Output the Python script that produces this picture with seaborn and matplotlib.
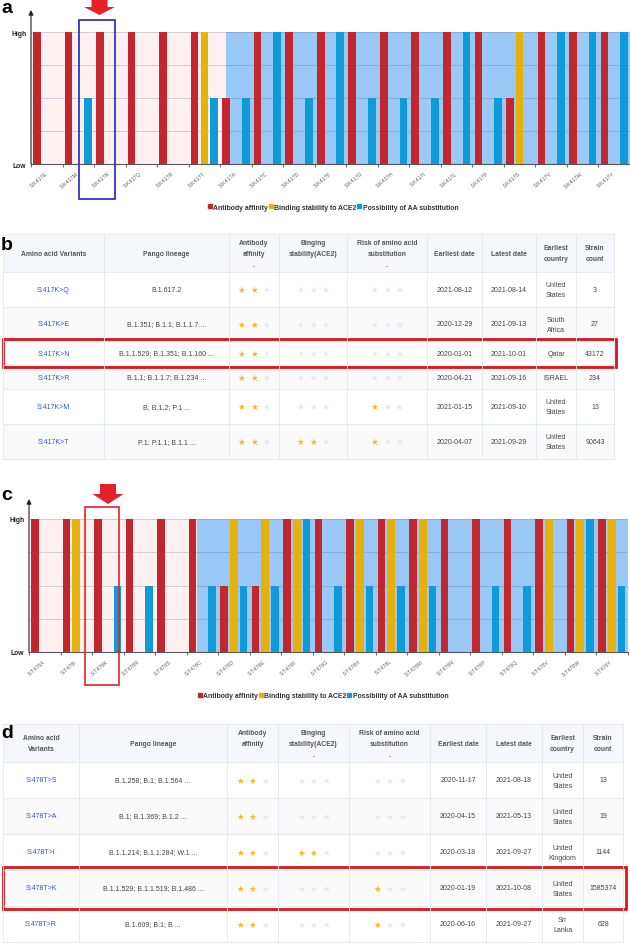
import matplotlib
matplotlib.use("Agg")
import matplotlib.pyplot as plt
from matplotlib.patches import Rectangle, Polygon, Patch
import seaborn as sns
import pandas as pd

# ---------------- data ----------------
series_names = ["Antibody affinity", "Binding stability to ACE2", "Possibility of AA substitution"]
y_tick_labels = ["Low", "High"]

a_categories = ["S:K417E", "S:K417M", "S:K417N", "S:K417Q", "S:K417R", "S:K417T", "S:K417A",
                "S:K417C", "S:K417D", "S:K417F", "S:K417G", "S:K417H", "S:K417I", "S:K417L",
                "S:K417P", "S:K417S", "S:K417V", "S:K417W", "S:K417Y"]
a_antibody = [4, 4, 4, 4, 4, 4, 2, 4, 4, 4, 4, 4, 4, 4, 4, 2, 4, 4, 4]
a_binding = [0, 0, 0, 0, 0, 4, 0, 0, 0, 0, 0, 0, 0, 0, 0, 4, 0, 0, 0]
a_substitution = [0, 2, 0, 0, 0, 2, 2, 4, 2, 4, 2, 2, 2, 4, 2, 0, 4, 4, 4]

c_categories = ["S:T478A", "S:T478I", "S:T478K", "S:T478R", "S:T478S", "S:T478C", "S:T478D",
                "S:T478E", "S:T478F", "S:T478G", "S:T478H", "S:T478L", "S:T478M", "S:T478N",
                "S:T478P", "S:T478Q", "S:T478V", "S:T478W", "S:T478Y"]
c_antibody = [4, 4, 4, 4, 4, 4, 2, 2, 4, 4, 4, 4, 4, 4, 4, 4, 4, 4, 4]
c_binding = [0, 4, 0, 0, 0, 0, 4, 4, 4, 0, 4, 4, 4, 0, 0, 0, 4, 4, 4]
c_substitution = [0, 0, 2, 2, 0, 2, 2, 2, 4, 2, 2, 2, 2, 0, 2, 2, 0, 4, 2]

b_header = ["Amino acid Variants", "Pango lineage", "Antibody\naffinity", "Binging\nstability(ACE2)",
            "Risk of amino acid\nsubstitution", "Earliest date", "Latest date", "Earliest\ncountry",
            "Strain\ncount"]
b_variants = ["S:417K>Q", "S:417K>E", "S:417K>N", "S:417K>R", "S:417K>M", "S:417K>T"]
b_lineage = ["B.1.617.2", "B.1.351; B.1.1; B.1.1.7 ...", "B.1.1.529; B.1.351; B.1.160 ...",
             "B.1.1; B.1.1.7; B.1.234 ...", "B; B.1.2; P.1 ...", "P.1; P.1.1; B.1.1 ..."]
b_antibody_stars = [2, 2, 2, 2, 2, 2]
b_binding_stars = [0, 0, 0, 0, 0, 2]
b_risk_stars = [0, 0, 0, 0, 1, 1]
b_earliest = ["2021-08-12", "2020-12-29", "2020-01-01", "2020-04-21", "2021-01-15", "2020-04-07"]
b_latest = ["2021-08-14", "2021-09-13", "2021-10-01", "2021-09-16", "2021-09-10", "2021-09-29"]
b_country = ["United\nStates", "South\nAfrica", "Qatar", "ISRAEL", "United\nStates", "United\nStates"]
b_count = ["3", "27", "43172", "234", "13", "90643"]

d_header = ["Amino acid\nVariants", "Pango lineage", "Antibody\naffinity", "Binging\nstability(ACE2)",
            "Risk of amino acid\nsubstitution", "Earliest date", "Latest date", "Earliest\ncountry",
            "Strain\ncount"]
d_variants = ["S:478T>S", "S:478T>A", "S:478T>I", "S:478T>K", "S:478T>R"]
d_lineage = ["B.1.258; B.1; B.1.564 ...", "B.1; B.1.369; B.1.2 ...", "B.1.1.214; B.1.1.284; W.1 ...",
             "B.1.1.529; B.1.1.519; B.1.486 ...", "B.1.609; B.1; B ..."]
d_antibody_stars = [2, 2, 2, 2, 2]
d_binding_stars = [0, 0, 2, 0, 0]
d_risk_stars = [0, 0, 0, 1, 1]
d_earliest = ["2020-11-17", "2020-04-15", "2020-03-18", "2020-01-19", "2020-06-16"]
d_latest = ["2021-08-18", "2021-05-13", "2021-09-27", "2021-10-08", "2021-09-27"]
d_country = ["United\nStates", "United\nStates", "United\nKingdom", "United\nStates", "Sri\nLanka"]
d_count = ["13", "19", "1144", "1585374", "628"]

# ---------------- style ----------------
RED = "#c1272d"
YELLOW = "#e6b10a"
BLUE = "#0f9ad9"
series_colors = [RED, YELLOW, BLUE]
PINK_BG = "#fdf0f0"
BLUE_BG = "#9ac8f7"
STAR_ON = "#f7ba2a"
STAR_OFF = "#e6e9f0"
LINE = "#e4e7ed"

W, H, DPI = 630, 945, 100
plt.rcParams["font.family"] = ["Liberation Sans", "DejaVu Sans"]

fig = plt.figure(figsize=(W / DPI, H / DPI), dpi=DPI)
fig.patch.set_facecolor("white")


def px_rect(l, t, r, b):
    return [l / W, 1 - b / H, (r - l) / W, (b - t) / H]


def bar_panel(box, cats, s1, s2, s3, band_start, legend_xy):
    ax = fig.add_axes(px_rect(*box))
    n = len(cats)
    df = pd.DataFrame({
        "variant": cats * 3,
        "level": s1 + s2 + s3,
        "series": [nm for nm in series_names for _ in range(n)],
    })
    ax.axvspan(-0.5, band_start, color=PINK_BG, lw=0, zorder=0)
    ax.axvspan(band_start, n - 0.5, color=BLUE_BG, lw=0, zorder=0)
    for yv in [1, 2, 3, 4]:
        ax.axhline(yv, color="#5a6f8c", alpha=0.28, lw=0.7, zorder=1)
    sns.barplot(data=df, x="variant", y="level", hue="series", order=cats,
                hue_order=series_names, palette=series_colors, width=0.93, gap=0.22,
                saturation=1, errorbar=None, legend=False, ax=ax, zorder=3, linewidth=0)
    ax.set_xlim(-0.5, n - 0.5)
    ax.set_ylim(0, 4)
    ax.set_xlabel("")
    ax.set_ylabel("")
    ax.set_yticks([0, 4])
    ax.set_yticklabels(y_tick_labels, fontweight="bold", fontsize=4.9, color="#222")
    ax.tick_params(axis="y", length=0, pad=3.5)
    ax.set_xticks(range(n))
    ax.set_xticklabels(cats, rotation=40, ha="right", va="center", rotation_mode="anchor",
                       fontsize=3.9, color="#666")
    ax.tick_params(axis="x", which="major", length=0, pad=6)
    ax.set_xticks([i - 0.5 for i in range(n + 1)], minor=True)
    ax.tick_params(axis="x", which="minor", length=2.5, width=0.6, color="#555")
    for sp in ["top", "right", "left"]:
        ax.spines[sp].set_visible(False)
    ax.spines["bottom"].set_color("#555")
    ax.spines["bottom"].set_linewidth(0.8)
    handles = [Patch(color=c) for c in series_colors]
    fig.legend(handles, series_names, loc="center",
               bbox_to_anchor=(legend_xy[0] / W, 1 - legend_xy[1] / H),
               ncol=3, frameon=False, handlelength=0.55, handleheight=0.55,
               handletextpad=0.2, columnspacing=0.15, borderaxespad=0, borderpad=0,
               prop={"weight": "bold", "size": 4.95}, labelcolor="#333")
    return ax


ax_a = bar_panel((31, 33, 630, 165), a_categories, a_antibody, a_binding, a_substitution,
                 5.69, (333, 208))
ax_c = bar_panel((29, 520, 627.5, 653), c_categories, c_antibody, c_binding, c_substitution,
                 4.83, (323, 697))

# ---------------- overlay (tables, annotations) ----------------
ov = fig.add_axes([0, 0, 1, 1], zorder=10)
ov.set_xlim(0, W)
ov.set_ylim(H, 0)
ov.axis("off")

# y-axis arrows
for (x, y0, y1) in [(31, 165, 11), (29, 653, 500)]:
    ov.annotate("", xy=(x, y1), xytext=(x, y0),
                arrowprops=dict(arrowstyle="-|>", color="#222", lw=0.8,
                                mutation_scale=7, shrinkA=0, shrinkB=0))

# panel letters
for letter, x, y in [("a", 1, 13), ("b", 1, 250), ("c", 1, 500), ("d", 1, 738)]:
    ov.text(x, y, letter, fontsize=14, fontweight="bold", va="baseline", ha="left", color="black")


def red_arrow(cx, top, tip):
    h = tip - top
    pts = [(cx - 8, top), (cx + 8, top), (cx + 8, top + h * 0.5), (cx + 15.5, top + h * 0.5),
           (cx, tip), (cx - 15.5, top + h * 0.5), (cx - 8, top + h * 0.5)]
    ov.add_patch(Polygon(pts, closed=True, fc="#e8202a", ec="none"))


red_arrow(99.5, 0, 16)
red_arrow(108, 485, 505)
ov.add_patch(Rectangle((79, 21), 36, 179, fill=False, ec="#3333cc", lw=1.3))
ov.add_patch(Rectangle((85, 508), 34, 178, fill=False, ec="#e8202a", lw=1.2))


def stars(cx, cy, k):
    for j, dx in enumerate([-12.5, 0, 12.5]):
        ov.text(cx + dx, cy, "\u2605", fontsize=6.2, ha="center", va="center",
                color=STAR_ON if j < k else STAR_OFF, family=["DejaVu Sans"])


def draw_table(cols, rows, header, variants, lineage, s_ab, s_bind, s_risk,
               earliest, latest, country, count, red_marks, hl_row, hl_box):
    x0, x1 = cols[0], cols[-1]
    ov.add_patch(Rectangle((x0, rows[0]), x1 - x0, rows[1] - rows[0], fc="#f5f7fa", ec="none"))
    for i in range(len(rows) - 2):
        if i % 2 == 1:
            ov.add_patch(Rectangle((x0, rows[i + 1]), x1 - x0, rows[i + 2] - rows[i + 1],
                                   fc="#fafafa", ec="none"))
    for y in rows:
        ov.plot([x0, x1], [y, y], color=LINE, lw=0.6)
    for x in cols:
        ov.plot([x, x], [rows[0], rows[-1]], color=LINE, lw=0.6)
    ty = (rows[0] + rows[1]) / 2
    for j, txt in enumerate(header):
        cx = (cols[j] + cols[j + 1]) / 2
        dy = -5 if j in (2, 3, 4) else 0
        ov.text(cx, ty + dy, txt, ha="center", va="center", fontsize=4.9, fontweight="bold",
                color="#555", linespacing=1.65)
        if j in red_marks:
            ov.text(cx, rows[1] - 6, "-", ha="center", va="center", fontsize=4, color="#e02020",
                    fontweight="bold")
    for i in range(len(variants)):
        cy = (rows[i + 1] + rows[i + 2]) / 2
        cc = [(cols[j] + cols[j + 1]) / 2 for j in range(len(cols) - 1)]
        ov.text(cc[0], cy, variants[i], ha="center", va="center", fontsize=5, color="#3355cc")
        ov.text(cc[1], cy, lineage[i], ha="center", va="center", fontsize=5, color="#444")
        stars(cc[2], cy, s_ab[i])
        stars(cc[3], cy, s_bind[i])
        stars(cc[4], cy, s_risk[i])
        for j, val in zip([5, 6, 7, 8], [earliest[i], latest[i], country[i], count[i]]):
            ov.text(cc[j], cy, val, ha="center", va="center", fontsize=5, color="#444",
                    linespacing=1.6)
    bx0, by0, bx1, by1 = hl_box
    ov.add_patch(Rectangle((bx0, by0), bx1 - bx0, by1 - by0, fill=False, ec="#d9161c", lw=2.0))


draw_table([3, 104, 229, 279, 347, 427, 482, 536, 576, 614],
           [235, 273, 308, 342, 366, 390, 425, 460],
           b_header, b_variants, b_lineage, b_antibody_stars, b_binding_stars, b_risk_stars,
           b_earliest, b_latest, b_country, b_count, (2, 4), 2, (3, 340, 616, 368))

draw_table([3, 79, 227, 278, 349, 430, 486, 542, 583, 623],
           [725, 763, 799, 835, 871, 907, 943],
           d_header, d_variants, d_lineage, d_antibody_stars, d_binding_stars, d_risk_stars,
           d_earliest, d_latest, d_country, d_count, (3, 4), 3, (3, 868, 626, 910))

fig.savefig("out.png", dpi=DPI, facecolor="white")
